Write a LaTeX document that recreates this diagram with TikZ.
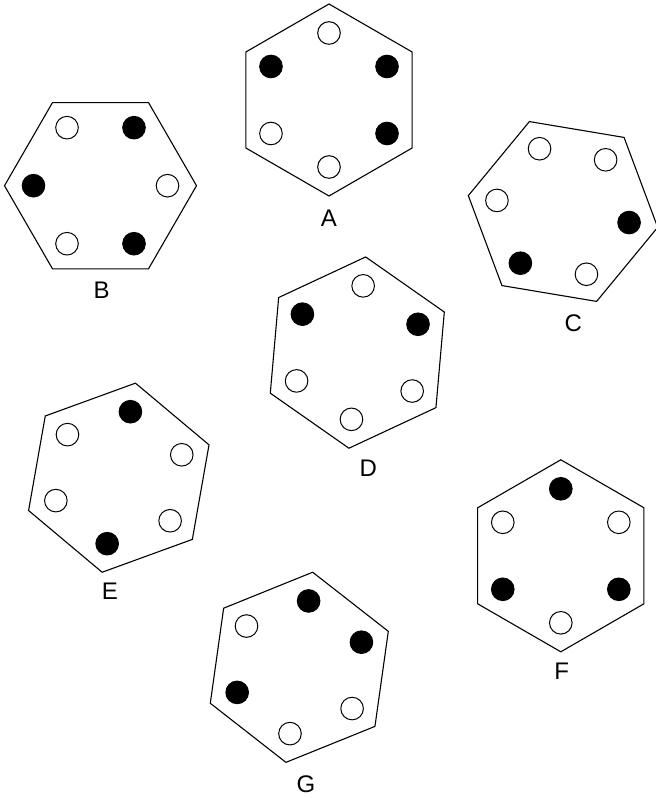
\documentclass[tikz,border=0pt]{standalone}
\usepackage{fontspec}
\setmainfont{Liberation Sans}
\tikzset{
  hexline/.style={draw=black, line width=1.1pt, line join=miter},
  dotline/.style={draw=black, line width=1pt},
  letter/.style={inner sep=0pt, font=\fontsize{24}{28}\selectfont, anchor=center}
}
% #1 x, #2 y, #3 angle of first vertex, #4 fills of the six dots (from #3, counter-clockwise)
\newcommand{\hexfig}[4]{%
  \begin{scope}[shift={(#1,#2)}]
    \draw[hexline] (#3:96) -- (#3+60:96) -- (#3+120:96) -- (#3+180:96) -- (#3+240:96) -- (#3+300:96) -- cycle;
    \foreach \f [count=\k from 0] in {#4} {
      \draw[dotline, fill=\f] (#3+60*\k:67) circle (11.3);
    }
  \end{scope}}
\begin{document}
\begin{tikzpicture}[x=1pt, y=1pt]
  \useasboundingbox (0,0) rectangle (656,798);
  \hexfig{329}{698}{90}{white,black,white,white,black,black}
  \hexfig{100.5}{612.3}{0}{white,black,white,black,white,black}
  \hexfig{563}{586.5}{-9.5}{black,white,white,white,black,white}
  \hexfig{357.3}{445.4}{85}{white,black,white,white,white,black}
  \hexfig{118.8}{320.3}{80}{black,white,white,black,white,white}
  \hexfig{560.8}{242.2}{90}{black,white,black,white,black,white}
  \hexfig{299.3}{130.7}{82}{black,white,black,white,white,black}
  \node[letter] (labA) at (329,580) {A};
  \node[letter] (labB) at (101.7,508) {B};
  \node[letter] (labC) at (573.3,474.7) {C};
  \node[letter] (labD) at (368.3,329.7) {D};
  \node[letter] (labE) at (110,206.3) {E};
  \node[letter] (labF) at (561.7,126.3) {F};
  \node[letter] (labG) at (306,13.5) {G};
\end{tikzpicture}
\end{document}
